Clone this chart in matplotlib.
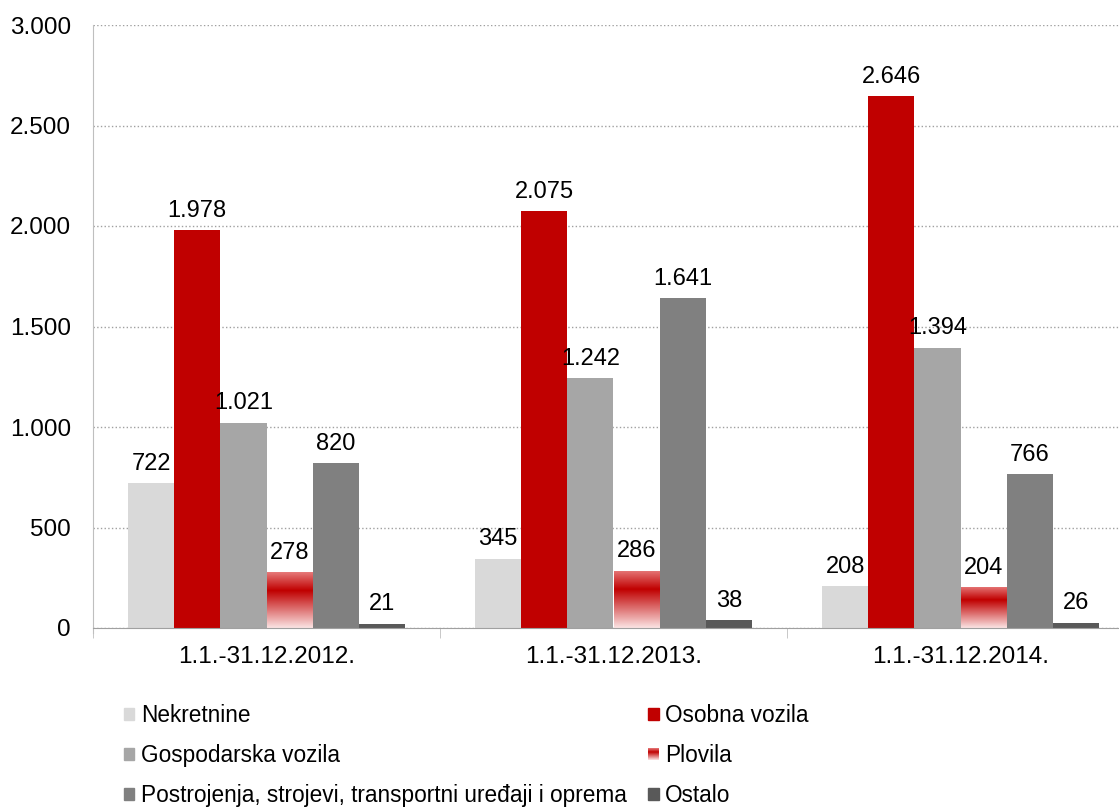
import numpy as np
import matplotlib
matplotlib.use("Agg")
import matplotlib.pyplot as plt
from matplotlib.colors import LinearSegmentedColormap
from matplotlib.patches import Rectangle, Patch
from matplotlib.legend_handler import HandlerBase
from matplotlib.ticker import FuncFormatter

plt.rcParams['font.family'] = ['Liberation Sans', 'DejaVu Sans']

# data
periods = ['1.1.-31.12.2012.', '1.1.-31.12.2013.', '1.1.-31.12.2014.']
series_names = ['Nekretnine', 'Osobna vozila', 'Gospodarska vozila', 'Plovila',
                'Postrojenja, strojevi, transportni uređaji i oprema', 'Ostalo']
nekretnine = [722, 345, 208]
osobna_vozila = [1978, 2075, 2646]
gospodarska_vozila = [1021, 1242, 1394]
plovila = [278, 286, 204]
postrojenja = [820, 1641, 766]
ostalo = [21, 38, 26]
y_ticks = [0, 500, 1000, 1500, 2000, 2500, 3000]

values = [nekretnine, osobna_vozila, gospodarska_vozila, plovila, postrojenja, ostalo]
colors = ['#d9d9d9', '#c00000', '#a6a6a6', None, '#808080', '#595959']

# gradient used for "Plovila" (top -> bottom)
grad_cmap = LinearSegmentedColormap.from_list(
    'plov', [(0.0, '#e67a7a'), (0.33, '#c00000'), (1.0, '#fbe4e4')])

fig = plt.figure(figsize=(11.19, 8.08), dpi=100)
ax = fig.add_axes([93 / 1119, 180 / 808, 1041 / 1119, 603 / 808])

x = np.arange(len(periods))
width = 0.133
offsets = (np.arange(6) - 2.5) * width

def thousands(v):
    return f'{int(v):,}'.replace(',', '.')

for i, (vals, col) in enumerate(zip(values, colors)):
    pos = x + offsets[i]
    if col is None:
        bars = ax.bar(pos, vals, width, color='none', edgecolor='none', zorder=2)
        grad = np.linspace(0, 1, 256).reshape(-1, 1)
        for b in bars:
            bx, by = b.get_x(), b.get_y()
            im = ax.imshow(grad, cmap=grad_cmap, aspect='auto', zorder=2,
                           extent=[bx, bx + b.get_width(), by, by + b.get_height()],
                           origin='upper')
            im.set_clip_path(b)
    else:
        bars = ax.bar(pos, vals, width, color=col, edgecolor='none', zorder=2)
    for p, v in zip(pos, vals):
        ax.annotate(thousands(v), (p, v), xytext=(0, 6), textcoords='offset points',
                    ha='center', va='bottom', fontsize=17)

ax.set_xlim(-0.5, 2.5)
ax.set_ylim(0, 3000)
ax.set_yticks(y_ticks)
ax.yaxis.set_major_formatter(FuncFormatter(lambda v, p: thousands(v)))
ax.set_xticks(x)
ax.set_xticklabels(periods)
ax.set_xticks([-0.5, 0.5, 1.5, 2.5], minor=True)
ax.tick_params(axis='x', which='major', length=0, pad=13, labelsize=17.5)
ax.tick_params(axis='x', which='minor', length=7, color='#bfbfbf', direction='out')
ax.tick_params(axis='y', length=0, pad=16, labelsize=17.5)

ax.yaxis.grid(True, linestyle=':', color='#a0a0a0', linewidth=1)
ax.set_axisbelow(True)
for s in ['top', 'right']:
    ax.spines[s].set_visible(False)
ax.spines['left'].set_color('#bfbfbf')
ax.spines['bottom'].set_color('#a0a0a0')
ax.spines['left'].set_bounds(-25, 3000)


class GradientHandler(HandlerBase):
    def create_artists(self, legend, orig_handle, xdescent, ydescent,
                       width, height, fontsize, trans):
        n = 12
        arts = []
        for k in range(n):
            c = grad_cmap(1 - (k + 0.5) / n)
            r = Rectangle((-xdescent, -ydescent + height * k / n), width, height / n,
                          facecolor=c, edgecolor='none', transform=trans)
            arts.append(r)
        return arts


handles = [Patch(color=c if c else '#c00000') for c in colors]
plov_handle = handles[3]
order = [0, 2, 4, 1, 3, 5]
leg = fig.legend([handles[i] for i in order], [series_names[i] for i in order],
                 ncol=2, loc='upper left', bbox_to_anchor=(124 / 1119, 1 - 704 / 808),
                 frameon=False, fontsize=16.3, handlelength=0.45, handleheight=0.45,
                 handletextpad=0.3, labelspacing=0.75, columnspacing=0.95,
                 borderaxespad=0, borderpad=0,
                 handler_map={plov_handle: GradientHandler()})

fig.savefig('out.png', dpi=100)
